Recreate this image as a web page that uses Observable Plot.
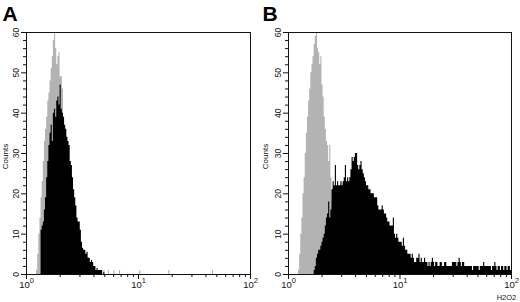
<!DOCTYPE html>
<html><head><meta charset="utf-8">
<script src="https://cdn.jsdelivr.net/npm/d3@7"></script>
<script src="https://cdn.jsdelivr.net/npm/@observablehq/plot@0.6"></script>
<style>
body{margin:0;background:#fff}
#wrap{display:flex;width:520px;height:302px;overflow:hidden}
</style>
</head><body><div id="wrap"></div>
<script>
// channel bin width, in decades of fluorescence (H2O2 probe)
const binStep = 0.01;
const xTicksMajor = [1, 10, 100];
const xTickLabels = ["10^0", "10^1", "10^2"];
const xTicksMinor = [2,3,4,5,6,7,8,9,20,30,40,50,60,70,80,90];
const yTicksMajor = [0, 10, 20, 30, 40, 50, 60];
const yTicksMinor = [2,4,6,8,12,14,16,18,22,24,26,28,32,34,36,38,42,44,46,48,52,54,56,58];
const yTitle = "Counts";
const xTitleB = "H2O2";

// Panel A: control (gray) and treated (black) histograms; first bin index then counts
const grayA_start = 9;
const grayA = [1,5,10,14,19,23,28,33,36,39,43,45,48,51,54,58,60,56,52,54,55,49,49,46,38,33,28,24,20,17,14,11,9,7,6,5,4,4,3,2,2,1,1,1,0,1];
const grayA_eventBins = [69, 73, 78, 83, 101, 127, 166];
const grayA_eventCounts = [1, 1, 1, 1, 1, 1, 1];
const blackA_start = 13;
const blackA = [11,12,13,16,19,24,28,32,35,37,33,40,41,39,43,44,42,47,41,40,39,37,36,34,33,32,28,27,24,21,19,17,14,13,13,11,8,6.5,6,6,5,5.5,4,4,3,3.5,3,2,2,1,1.5,1,1,1,1,0,0.5];

// Panel B
const grayB_start = 9;
const grayB = [1,5,10,14,20,24,30,35,39,43,46,50,52,54,57,59,60,56,55,52,54,47,44,39,36,33,32,28,32,24,18,12,7,4,2,1];
const blackB_start = 23;
const blackB = [
  1,2,4,5,6,6,7,8,9,10,12,14,15,
  18,14,16,21,23,22,27,22,23,22,22,23,22,23,24,
  27,23,24,23,24,26,29,28,29,30,30,27,26,27,28,
  26,25,24,23,22,22,21,21,20,20,20,19,19,19,17,
  16,16,16,17,16,15,15,14,13,13,12,12,12,14,10,
  9,10,9,8,8,8,7,9,7,6,6,5,5,5,4,
  5,4,3,3,4,4,5,3,
  4,3,3,4,3,3,2,3,2,3,
  4,3,2,3,3,2,2,3,3,2,
  2,3,3,2,2,2,2,2,3,3,
  3,3,2,3,4,3,2,3,3,2,
  2,2,2,2,2,2,1,2,2,2,
  2,2,1,2,2,2,3,2,2,2,
  2,2,2,1,2,2,3,2,1,2,
  2,1,2,2,1,2,2,1,2,2,
  1];

const GRAY = "#b3b3b3";
const FONT = "'Liberation Sans', Arial, sans-serif";

function series(start, counts) {
  const pts = counts.map((c, i) => ({x: 10 ** ((start + i) * binStep), y: c}));
  pts.push({x: 10 ** ((start + counts.length) * binStep), y: 0});
  return pts;
}

function panel({letter, grayStart, gray, blackStart, black, eventBins, eventCounts, ml, mr, xTitle}) {
  const events = (eventBins || []).map((b, i) => ({x1: 10 ** (b * binStep), x2: 10 ** ((b + 1) * binStep), y: eventCounts[i]}));
  const chart = Plot.plot({
    width: 260, height: 302,
    marginLeft: ml, marginRight: mr, marginTop: 32, marginBottom: 28,
    style: {fontFamily: FONT, background: "white", overflow: "visible"},
    x: {type: "log", domain: [1, 100], axis: null, label: null},
    y: {domain: [0, 60], axis: null, label: null},
    marks: [
      Plot.areaY(series(grayStart, gray), {x: "x", y: "y", curve: "step-after", fill: GRAY}),
      Plot.rectY(events, {x1: "x1", x2: "x2", y: "y", fill: GRAY}),
      Plot.areaY(series(blackStart, black), {x: "x", y: "y", curve: "step-after", fill: "black"}),
      Plot.frame({stroke: "#111", strokeWidth: 1}),
      Plot.axisX(xTicksMajor, {anchor: "bottom", tickSize: 5, tickFormat: () => "", label: null, stroke: "#111"}),
      Plot.axisX(xTicksMinor, {anchor: "bottom", tickSize: 3, tickFormat: () => "", label: null, stroke: "#111"}),
      Plot.axisY(yTicksMajor, {anchor: "left", tickSize: 5, tickFormat: () => "", label: null, stroke: "#111"}),
      Plot.axisY(yTicksMinor, {anchor: "left", tickSize: 3, tickFormat: () => "", label: null, stroke: "#111"}),
      Plot.text(yTicksMajor, {y: d => d, text: d => String(d), frameAnchor: "left", dx: -10, rotate: -90,
        textAnchor: "middle", lineAnchor: "middle", fontSize: 8.5, fill: "#111"}),
      Plot.text([yTitle], {text: d => d, frameAnchor: "left", dx: -ml + 5, dy: 3, rotate: -90,
        textAnchor: "middle", lineAnchor: "middle", fontSize: 8, fill: "#111"}),
      Plot.text(xTicksMajor, {x: d => d, text: (d, i) => xTickLabels[i], frameAnchor: "bottom", dy: 13,
        textAnchor: "middle", lineAnchor: "bottom", fontSize: 9.5, fill: "#111"}),
      xTitle ? Plot.text([xTitle], {text: d => d, frameAnchor: "bottom-right", dx: -5, dy: 25.5,
        textAnchor: "middle", lineAnchor: "bottom", fontSize: 7.5, fill: "#111"}) : null,
      Plot.text([letter], {text: d => d, frameAnchor: "top-left", dx: -ml + 2, dy: -26,
        textAnchor: "start", lineAnchor: "top", fontSize: 21, fontWeight: "bold", fill: "black"})
    ]
  });
  // superscript exponents on the decade labels
  const ns = "http://www.w3.org/2000/svg";
  chart.querySelectorAll("text").forEach(t => {
    if (t.children.length || !t.textContent.includes("^")) return;
    const parts = t.textContent.split("^");
    t.textContent = "";
    const a = document.createElementNS(ns, "tspan"); a.textContent = parts[0];
    const b = document.createElementNS(ns, "tspan"); b.textContent = parts[1];
    b.setAttribute("font-size", "7.5"); b.setAttribute("dy", "-4.5");
    t.appendChild(a); t.appendChild(b);
  });
  return chart;
}

const wrap = document.getElementById("wrap");
wrap.appendChild(panel({letter: "A", grayStart: grayA_start, gray: grayA, blackStart: blackA_start, black: blackA,
  eventBins: grayA_eventBins, eventCounts: grayA_eventCounts, ml: 26, mr: 10}));
wrap.appendChild(panel({letter: "B", grayStart: grayB_start, gray: grayB, blackStart: blackB_start, black: blackB,
  ml: 28, mr: 9, xTitle: xTitleB}));
</script></body></html>
